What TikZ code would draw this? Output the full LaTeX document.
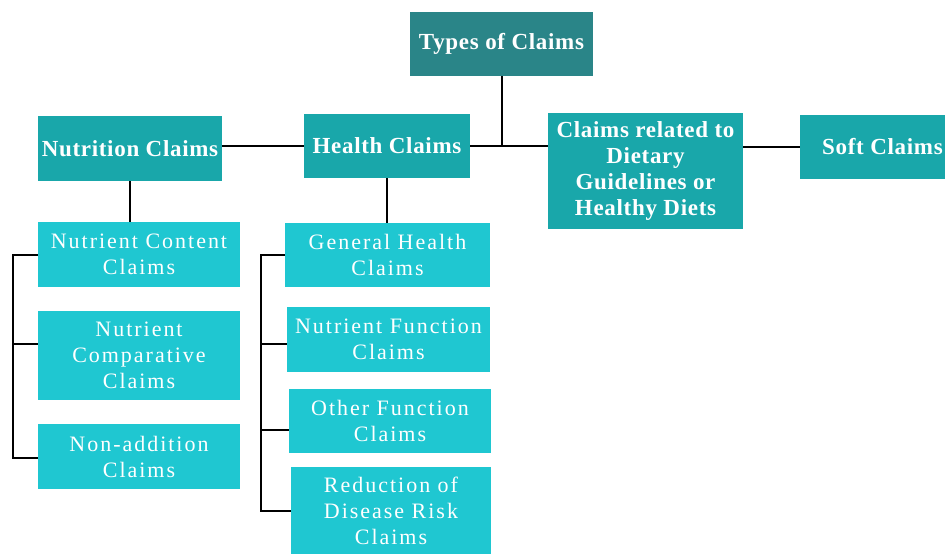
\documentclass[tikz,border=0pt]{standalone}
\usepackage{fontspec}
\setmainfont{Liberation Serif}
\definecolor{topc}{HTML}{2A8588}
\definecolor{midc}{HTML}{19A7AA}
\definecolor{lowc}{HTML}{1FC7D1}
\tikzset{
  box/.style={inner sep=0pt, align=center, text=white, anchor=center},
  topbox/.style={box, fill=topc, font=\fontsize{23}{26}\selectfont\bfseries\addfontfeature{LetterSpace=3}},
  midbox/.style={box, fill=midc, font=\fontsize{23}{26}\selectfont\bfseries\addfontfeature{LetterSpace=3}},
  lowbox/.style={box, fill=lowc, font=\fontsize{22}{26}\selectfont\addfontfeature{LetterSpace=9}},
  conn/.style={draw=black, line width=2pt}
}
\begin{document}
\begin{tikzpicture}[x=1pt,y=-1pt]
\useasboundingbox (0,0) rectangle (945,554);
% level 1 and 2
\node[topbox, minimum width=183pt, minimum height=64pt] (top) at (501.5,44) {Types of Claims};
\node[midbox, minimum width=184pt, minimum height=65pt] (nutr) at (130,148.5) {Nutrition Claims};
\node[midbox, minimum width=166pt, minimum height=64pt] (health) at (387,146) {Health Claims};
\node[midbox, minimum width=195pt, minimum height=116pt] (diet) at (645.5,171) {Claims related to\\Dietary\\Guidelines or\\Healthy Diets};
\node[midbox, minimum width=165pt, minimum height=64pt] (soft) at (882.5,147) {Soft Claims};
% level 3 left
\node[lowbox, minimum width=202pt, minimum height=65pt] (nc) at (139,254.5) {Nutrient Content\\Claims};
\node[lowbox, minimum width=202pt, minimum height=89pt] (ncomp) at (139,355.5) {Nutrient\\Comparative\\Claims};
\node[lowbox, minimum width=202pt, minimum height=65pt] (nonadd) at (139,456.5) {Non-addition\\Claims};
% level 3 right
\node[lowbox, minimum width=205pt, minimum height=64pt] (gh) at (387.5,255) {General Health\\Claims};
\node[lowbox, minimum width=203pt, minimum height=65pt] (nf) at (388.5,339.5) {Nutrient Function\\Claims};
\node[lowbox, minimum width=202pt, minimum height=64pt] (of) at (390,421) {Other Function\\Claims};
\node[lowbox, minimum width=200pt, minimum height=88pt] (rd) at (391,511) {Reduction of\\Disease Risk\\Claims};
% helper coordinates
\coordinate (lb) at (13,255);
\coordinate (hb) at (261,255);
% connectors top
\draw[conn] (top.south) -- (top.south |- health.east);
\draw[conn] (health.east) -- (health.east -| diet.west);
\draw[conn] (health.west) -- (health.west -| nutr.east);
\draw[conn] (soft.west) -- (soft.west -| diet.east);
\draw[conn] (nutr.south) -- (nutr.south |- nc.north);
\draw[conn] (health.south) -- (health.south |- gh.north);
% left bracket
\draw[conn] (nc.west) -- (nc.west -| lb) -- ([yshift=-1.5pt]nonadd.west -| lb) -- ([yshift=-1.5pt]nonadd.west);
\draw[conn] ([yshift=12pt]ncomp.west) -- ([yshift=12pt]ncomp.west -| lb);
% right bracket
\draw[conn] (gh.west) -- (gh.west -| hb) -- (rd.west -| hb) -- (rd.west);
\draw[conn] ([yshift=-4.5pt]nf.west) -- ([yshift=-4.5pt]nf.west -| hb);
\draw[conn] ([yshift=-9pt]of.west) -- ([yshift=-9pt]of.west -| hb);
\end{tikzpicture}
\end{document}
